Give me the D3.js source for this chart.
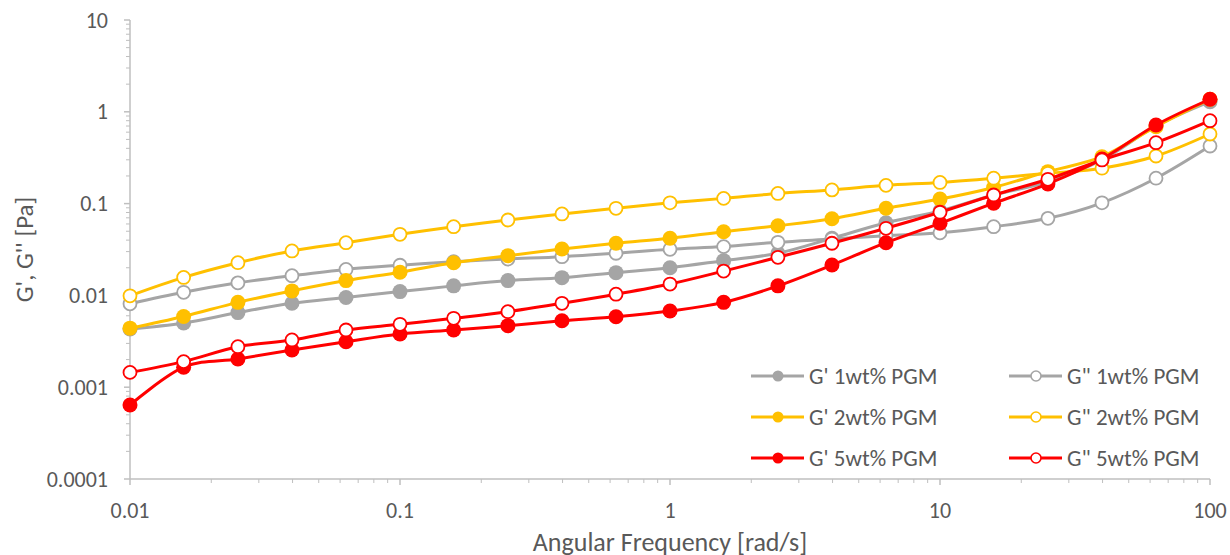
<!DOCTYPE html>
<html>
<head>
<meta charset="utf-8">
<script src="https://cdn.jsdelivr.net/npm/d3@7"></script>
<style>
  body { margin: 0; background: #fff; }
  text { font-family: Carlito, Calibri, Lato, "Open Sans", sans-serif; fill: #595959; }
</style>
</head>
<body>
<script>
// angular frequency [rad/s]
var freq = [0.01, 0.0158, 0.0251, 0.0398, 0.0631, 0.1, 0.158, 0.251, 0.398, 0.631,
            1, 1.58, 2.51, 3.98, 6.31, 10, 15.8, 25.1, 39.8, 63.1, 100];

var gp1  = [0.0043, 0.0050, 0.0065, 0.0082, 0.0095, 0.0110, 0.0127, 0.0145, 0.0156, 0.0177,
            0.0200, 0.0239, 0.0288, 0.0419, 0.0619, 0.083, 0.124, 0.173, 0.299, 0.70, 1.29];
var gpp1 = [0.0081, 0.0108, 0.0137, 0.0164, 0.0192, 0.0213, 0.0233, 0.0249, 0.0264, 0.0288,
            0.0318, 0.034, 0.0379, 0.0411, 0.0447, 0.048, 0.056, 0.0691, 0.102, 0.189, 0.424];
var gp2  = [0.0044, 0.0059, 0.0084, 0.0112, 0.0145, 0.0179, 0.0227, 0.0271, 0.032, 0.037,
            0.0419, 0.0494, 0.0574, 0.0685, 0.0889, 0.112, 0.150, 0.223, 0.324, 0.688, 1.37];
var gpp2 = [0.0099, 0.0157, 0.0227, 0.0305, 0.0375, 0.0463, 0.056, 0.0663, 0.0771, 0.0889,
            0.102, 0.114, 0.129, 0.141, 0.158, 0.170, 0.189, 0.214, 0.243, 0.330, 0.573];
var gp5  = [0.00064, 0.00165, 0.00203, 0.00254, 0.00313, 0.0038, 0.0042, 0.00468, 0.0053, 0.00586,
            0.00676, 0.0084, 0.0127, 0.0214, 0.0375, 0.061, 0.101, 0.164, 0.306, 0.718, 1.37];
var gpp5 = [0.00145, 0.0019, 0.00276, 0.00327, 0.0042, 0.00484, 0.00563, 0.00664, 0.0082, 0.0103,
            0.0133, 0.0184, 0.026, 0.037, 0.0538, 0.0805, 0.124, 0.184, 0.299, 0.461, 0.80];

var xTicks = [0.01, 0.1, 1, 10, 100];
var yTicks = [0.0001, 0.001, 0.01, 0.1, 1, 10];

var series = [
  {name: "G' 1wt% PGM",  values: gp1,  color: "#A5A5A5", open: false},
  {name: "G\" 1wt% PGM", values: gpp1, color: "#A5A5A5", open: true},
  {name: "G' 2wt% PGM",  values: gp2,  color: "#FFC000", open: false},
  {name: "G\" 2wt% PGM", values: gpp2, color: "#FFC000", open: true},
  {name: "G' 5wt% PGM",  values: gp5,  color: "#FF0000", open: false},
  {name: "G\" 5wt% PGM", values: gpp5, color: "#FF0000", open: true}
];

var W = 1230, H = 555;
var margin = {top: 20, right: 20, bottom: 76, left: 130};
var axisColor = "#BFBFBF";

var svg = d3.select("body").append("svg")
    .attr("width", W)
    .attr("height", H);

var x = d3.scaleLog().domain([0.01, 100]).range([margin.left, W - margin.right]);
var y = d3.scaleLog().domain([0.0001, 10]).range([H - margin.bottom, margin.top]);

// minor ticks (2..9 of each decade)
var minorX = [], minorY = [];
xTicks.slice(0, -1).forEach(function(t) { for (var k = 2; k < 10; k++) minorX.push(t * k); });
yTicks.slice(0, -1).forEach(function(t) { for (var k = 2; k < 10; k++) minorY.push(t * k); });

var y0 = y(0.0001), x0 = x(0.01);

// axes lines
svg.append("line")
    .attr("x1", x0).attr("x2", x(100)).attr("y1", y0).attr("y2", y0)
    .attr("stroke", axisColor).attr("stroke-width", 1.5);
svg.append("line")
    .attr("x1", x0).attr("x2", x0).attr("y1", y(10)).attr("y2", y0)
    .attr("stroke", axisColor).attr("stroke-width", 1.5);

svg.selectAll(".xminor").data(minorX).enter().append("line")
    .attr("x1", (d) => x(d)).attr("x2", (d) => x(d))
    .attr("y1", y0).attr("y2", y0 + 4)
    .attr("stroke", axisColor).attr("stroke-width", 1);
svg.selectAll(".xmajor").data(xTicks).enter().append("line")
    .attr("x1", (d) => x(d)).attr("x2", (d) => x(d))
    .attr("y1", y0).attr("y2", y0 + 6)
    .attr("stroke", axisColor).attr("stroke-width", 1.5);
svg.selectAll(".yminor").data(minorY).enter().append("line")
    .attr("x1", x0 - 4).attr("x2", x0)
    .attr("y1", (d) => y(d)).attr("y2", (d) => y(d))
    .attr("stroke", axisColor).attr("stroke-width", 1);
svg.selectAll(".ymajor").data(yTicks).enter().append("line")
    .attr("x1", x0 - 6).attr("x2", x0)
    .attr("y1", (d) => y(d)).attr("y2", (d) => y(d))
    .attr("stroke", axisColor).attr("stroke-width", 1.5);

// tick labels
svg.selectAll(".xlab").data(xTicks).enter().append("text")
    .attr("x", (d) => x(d)).attr("y", y0 + 39)
    .attr("text-anchor", "middle")
    .style("font-size", "22px")
    .text((d) => String(d));
svg.selectAll(".ylab").data(yTicks).enter().append("text")
    .attr("x", x0 - 22).attr("y", (d) => y(d) + 7.5)
    .attr("text-anchor", "end")
    .style("font-size", "22px")
    .text((d) => d < 0.001 ? "0.0001" : String(d));

// axis titles
svg.append("text")
    .attr("x", (x0 + x(100)) / 2).attr("y", 551)
    .attr("text-anchor", "middle")
    .style("font-size", "26px")
    .text("Angular Frequency [rad/s]");
svg.append("text")
    .attr("transform", "translate(33," + ((y(10) + y0) / 2) + ") rotate(-90)")
    .attr("text-anchor", "middle")
    .style("font-size", "25px")
    .text("G', G'' [Pa]");

// series
var line = d3.line()
    .x((d, i) => x(freq[i]))
    .y((d) => y(d))
    .curve(d3.curveCatmullRom.alpha(0));

series.forEach(function(s) {
  var g = svg.append("g");
  g.append("path")
      .attr("d", line(s.values))
      .attr("fill", "none")
      .attr("stroke", s.color)
      .attr("stroke-width", 3)
      .attr("stroke-linejoin", "round");
  g.selectAll("circle").data(s.values).enter().append("circle")
      .attr("cx", (d, i) => x(freq[i]))
      .attr("cy", (d) => y(d))
      .attr("r", s.open ? 6.5 : 7.5)
      .attr("fill", s.open ? "#fff" : s.color)
      .attr("stroke", s.color)
      .attr("stroke-width", s.open ? 1.8 : 0);
});

// legend
var legend = svg.append("g");
series.forEach(function(s, i) {
  var col = i % 2, row = Math.floor(i / 2);
  var lx = col === 0 ? 751 : 1009;
  var ly = 376 + row * 41;
  var item = legend.append("g").attr("transform", "translate(" + lx + "," + ly + ")");
  item.append("line")
      .attr("x1", 0).attr("x2", 53).attr("y1", 0).attr("y2", 0)
      .attr("stroke", s.color).attr("stroke-width", 3);
  item.append("circle")
      .attr("cx", 27).attr("cy", 0)
      .attr("r", s.open ? 5 : 5.5)
      .attr("fill", s.open ? "#fff" : s.color)
      .attr("stroke", s.color)
      .attr("stroke-width", s.open ? 1.6 : 0);
  item.append("text")
      .attr("x", 58).attr("y", 8)
      .style("font-size", "23px")
      .text(s.name);
});
</script>
</body>
</html>
